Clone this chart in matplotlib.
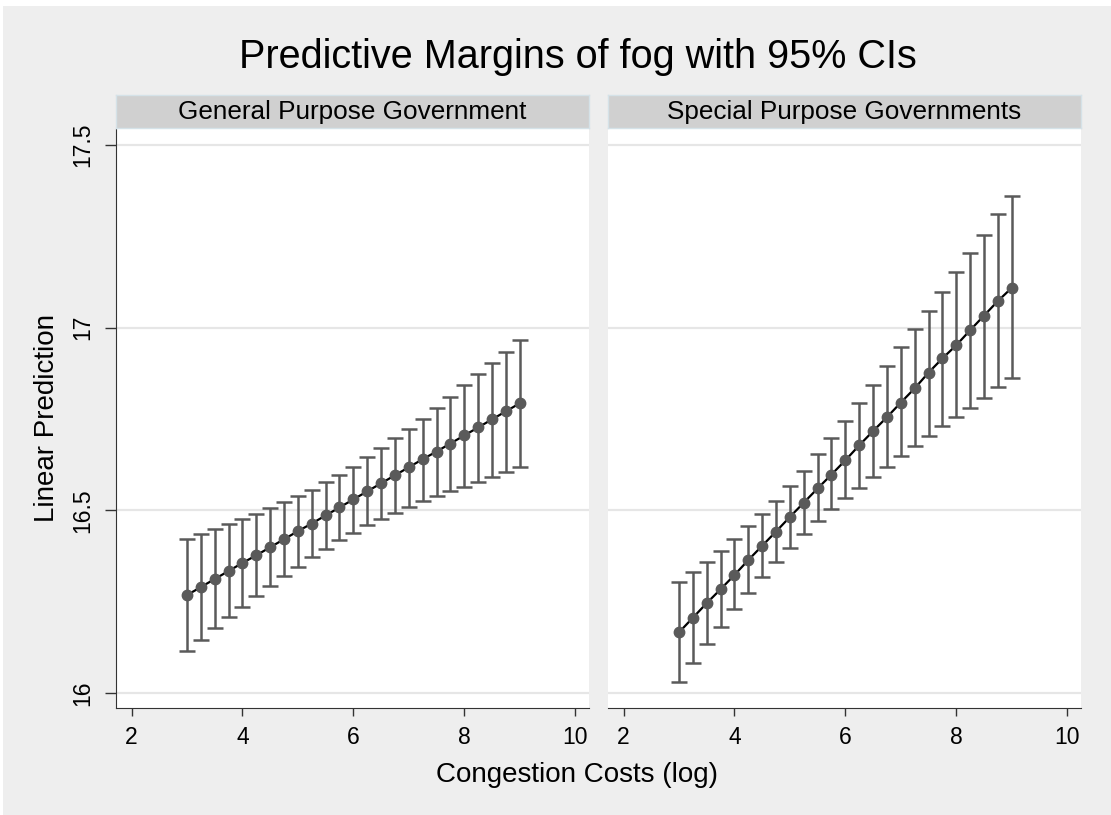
import numpy as np
import matplotlib
matplotlib.use('Agg')
import matplotlib.pyplot as plt
from matplotlib.patches import Rectangle

plt.rcParams['font.family'] = ['Liberation Sans', 'DejaVu Sans']

# congestion costs (log), same grid in both panels
x_vals = [3.0, 3.25, 3.5, 3.75, 4.0, 4.25, 4.5, 4.75, 5.0, 5.25, 5.5, 5.75, 6.0,
          6.25, 6.5, 6.75, 7.0, 7.25, 7.5, 7.75, 8.0, 8.25, 8.5, 8.75, 9.0]

panel_titles = ['General Purpose Government', 'Special Purpose Governments']

# General purpose government: margin, upper and lower 95% CI
gen_mid = [16.268, 16.290, 16.312, 16.334, 16.356, 16.377, 16.399, 16.421, 16.443,
           16.464, 16.486, 16.508, 16.530, 16.552, 16.574, 16.596, 16.618, 16.640,
           16.661, 16.683, 16.705, 16.727, 16.749, 16.771, 16.793]
gen_hi = [16.422, 16.434, 16.448, 16.463, 16.477, 16.489, 16.506, 16.522, 16.540,
          16.557, 16.577, 16.598, 16.619, 16.645, 16.671, 16.697, 16.724, 16.751,
          16.780, 16.810, 16.843, 16.873, 16.904, 16.934, 16.966]
gen_lo = [16.115, 16.145, 16.179, 16.207, 16.236, 16.265, 16.294, 16.320, 16.346,
          16.371, 16.394, 16.419, 16.439, 16.460, 16.476, 16.493, 16.509, 16.525,
          16.540, 16.553, 16.565, 16.578, 16.592, 16.605, 16.618]

# Special purpose governments
spe_mid = [16.166, 16.206, 16.246, 16.284, 16.323, 16.364, 16.403, 16.442, 16.482,
           16.521, 16.560, 16.598, 16.637, 16.678, 16.717, 16.755, 16.795, 16.834,
           16.877, 16.916, 16.952, 16.993, 17.033, 17.073, 17.109]
spe_hi = [16.303, 16.331, 16.360, 16.390, 16.422, 16.456, 16.489, 16.525, 16.566,
          16.609, 16.653, 16.697, 16.744, 16.795, 16.843, 16.895, 16.946, 16.996,
          17.047, 17.098, 17.153, 17.204, 17.255, 17.311, 17.361]
spe_lo = [16.031, 16.082, 16.134, 16.182, 16.229, 16.274, 16.317, 16.360, 16.398,
          16.434, 16.470, 16.504, 16.533, 16.562, 16.590, 16.619, 16.650, 16.675,
          16.703, 16.730, 16.756, 16.781, 16.807, 16.837, 16.863]

x_ticks = [2, 4, 6, 8, 10]
y_ticks = [16, 16.5, 17, 17.5]
y_ticklabels = ['16', '16.5', '17', '17.5']

W, H = 1111, 815
bg = '#eeeeee'
mk = '#5a5a5a'

fig = plt.figure(figsize=(W / 100, H / 100), dpi=100)
fig.patch.set_facecolor(bg)
# thin white margin at top and left, as in the exported picture
fig.patches.append(Rectangle((0, 1 - 6 / H), 1, 6 / H, transform=fig.transFigure,
                             facecolor='white', edgecolor='none', zorder=-10))
fig.patches.append(Rectangle((0, 0), 3 / W, 1, transform=fig.transFigure,
                             facecolor='white', edgecolor='none', zorder=-10))

lefts = [116, 608]
width = 473
ax_bottom = 1 - 708 / H
ax_height = (708 - 129) / H

series = [(gen_mid, gen_lo, gen_hi), (spe_mid, spe_lo, spe_hi)]

for i, (mid, lo, hi) in enumerate(series):
    ax = fig.add_axes([lefts[i] / W, ax_bottom, width / W, ax_height])
    ax.set_facecolor('white')
    mid = np.array(mid)
    yerr = [mid - np.array(lo), np.array(hi) - mid]

    for yt in y_ticks:
        ax.axhline(yt, color='#e6e6e6', lw=1.6, zorder=0)

    ax.errorbar(x_vals, mid, yerr=yerr, fmt='none', ecolor=mk, elinewidth=1.8,
                capsize=6, capthick=1.8, zorder=2)
    ax.plot(x_vals, mid, color='black', lw=1.6, zorder=3)
    ax.plot(x_vals, mid, 'o', color=mk, ms=7.5, mec=mk, zorder=4)

    ax.set_xlim(1.72, 10.25)
    ax.set_ylim(15.959, 17.544)
    ax.set_xticks(x_ticks)
    ax.set_xticklabels([str(t) for t in x_ticks])
    ax.tick_params(axis='x', length=6, width=1, color='#333333', pad=7,
                   labelsize=16.5)

    for s in ['top', 'right']:
        ax.spines[s].set_visible(False)
    ax.spines['bottom'].set_color('#333333')

    if i == 0:
        ax.set_yticks(y_ticks)
        ax.set_yticklabels(y_ticklabels, rotation=90, va='center')
        ax.tick_params(axis='y', length=8, width=1, color='#333333', pad=8,
                       labelsize=16.5)
        ax.spines['left'].set_color('#333333')
        ax.set_ylabel('Linear Prediction', fontsize=20, va='center')
        ax.yaxis.set_label_coords(-0.1465, 0.5)
    else:
        ax.set_yticks([])
        ax.spines['left'].set_visible(False)

    # panel header strip
    sax = fig.add_axes([lefts[i] / W, 1 - 128 / H, width / W, 33 / H])
    sax.set_facecolor('#d0d0d0')
    for s in sax.spines.values():
        s.set_color('#d5e2e8')
        s.set_linewidth(1)
    sax.set_xticks([])
    sax.set_yticks([])
    sax.text(0.5, 0.5, panel_titles[i], ha='center', va='center', fontsize=18.8,
             transform=sax.transAxes)

fig.text(577 / W, 1 - 775 / H, 'Congestion Costs (log)', ha='center',
         va='center', fontsize=20)
fig.text(578 / W, 1 - 57 / H, 'Predictive Margins of fog with 95% CIs',
         ha='center', va='center', fontsize=28.5)

fig.savefig('out.png', dpi=100, facecolor=fig.get_facecolor())
